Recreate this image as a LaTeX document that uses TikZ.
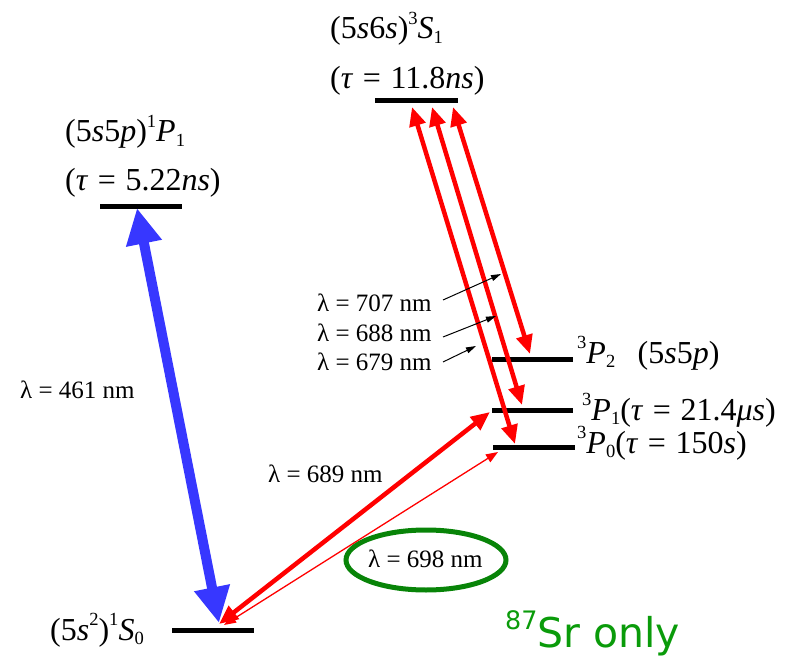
\documentclass[tikz,border=0pt]{standalone}
\usepackage{fontspec}
\usepackage{graphicx}
\setmainfont{Liberation Serif}
\newfontfamily\greensans{DejaVu Sans}
\usetikzlibrary{arrows.meta}
\newcommand\lo[1]{\raisebox{-0.15em}{\scalebox{0.58}{#1}}}
\newcommand\hi[1]{\raisebox{0.46em}{\scalebox{0.58}{#1}}}
\newcommand\eqs{\hspace{0.3em}=\hspace{0.3em}}
\definecolor{arrowblue}{RGB}{55,55,255}
\definecolor{srgreen}{RGB}{10,155,10}
\tikzset{
  level/.style={line width=5pt},
  big/.style={font=\fontsize{32}{34}\selectfont, inner sep=0pt, anchor=base west},
  small/.style={font=\fontsize{25}{28}\selectfont, inner sep=0pt, anchor=base west},
  bluearrow/.style={arrowblue, line width=10pt, {Triangle[length=36pt,width=34pt]}-{Triangle[length=36pt,width=34pt]}},
  redarrow/.style={red, line width=4.5pt, {Triangle[length=19pt,width=16pt]}-{Triangle[length=19pt,width=16pt]}},
  thinred/.style={red, line width=1.3pt, {Triangle[length=12pt,width=9pt]}-{Triangle[length=12pt,width=9pt]}},
  pointer/.style={black, line width=1pt, -{Triangle[length=10pt,width=6pt]}}
}
\begin{document}
\begin{tikzpicture}[x=1pt,y=-1pt]
\useasboundingbox (0,0) rectangle (793,658);
% levels
\coordinate (s1l) at (375,101); \coordinate (s1r) at (458,101);
\coordinate (p1sl) at (100,207); \coordinate (p1sr) at (182,207);
\coordinate (p2l) at (492,359); \coordinate (p2r) at (573,359);
\coordinate (p1l) at (492,410); \coordinate (p1r) at (573,410);
\coordinate (p0l) at (493,447); \coordinate (p0r) at (575,447);
\coordinate (s0l) at (172,630); \coordinate (s0r) at (254,630);
\draw[level] (s1l) -- (s1r);
\draw[level] (p1sl) -- (p1sr);
\draw[level] (p2l) -- (p2r);
\draw[level] (p1l) -- (p1r);
\draw[level] (p0l) -- (p0r);
\draw[level] (s0l) -- (s0r);
% labels
\node[big] (l1) at (330,39) {(5\textit{s}6\textit{s})\hi{3}\textit{S}\lo{1}};
\node[big] (l2) at (330,89) {(\textit{τ}\eqs 11.8\textit{ns})};
\node[big] (l3) at (65,142) {(5\textit{s}5\textit{p})\hi{1}\textit{P}\lo{1}};
\node[big] (l4) at (65,191) {(\textit{τ}\eqs 5.22\textit{ns})};
\node[big] (l5) at (577,363) {\hi{3}\textit{P}\lo{2}\hspace{0.7em}(5\textit{s}5\textit{p})};
\node[big] (l6) at (582,420) {\hi{3}\textit{P}\lo{1}(\textit{τ}\eqs 21.4\textit{μs})};
\node[big] (l7) at (577,453) {\hi{3}\textit{P}\lo{0}(\textit{τ}\eqs 150\textit{s})};
\node[big] (l8) at (50,640) {(5\textit{s}\hi{2})\hi{1}\textit{S}\lo{0}};
\node[small] (w707) at (317,311) {λ = 707 nm};
\node[small] (w688) at (317,341) {λ = 688 nm};
\node[small] (w679) at (317,370) {λ = 679 nm};
\node[small] (w461) at (20,398) {λ = 461 nm};
\node[small] (w689) at (268,482) {λ = 689 nm};
\node[small] (w698) at (368,567) {λ = 698 nm};
\draw[srgreen!85!black, line width=5pt] (426,560) ellipse (80pt and 30pt);
\node[font=\greensans\fontsize{41}{44}\selectfont, text=srgreen, inner sep=0pt, anchor=base west] (sr) at (505,647) {\raisebox{0.42em}{\scalebox{0.62}{87}}Sr only};
% arrow end points
\coordinate (bt) at (137,208); \coordinate (bb) at (219,623);
\coordinate (rt1) at (412,107); \coordinate (rb1) at (515,444);
\coordinate (rt2) at (432,107); \coordinate (rb2) at (522,405);
\coordinate (rt3) at (453,107); \coordinate (rb3) at (530,354);
\coordinate (gt) at (490,412); \coordinate (gb) at (219,624);
\coordinate (tt) at (498,452); \coordinate (tb) at (224,625);
\coordinate (pa) at (443,300); \coordinate (pb) at (501,274);
\coordinate (pc) at (443,337); \coordinate (pd) at (496,316);
\coordinate (pe) at (443,362); \coordinate (pf) at (476,346);
\draw[bluearrow] (bb) -- (bt);
\draw[redarrow] (rb1) -- (rt1);
\draw[redarrow] (rb2) -- (rt2);
\draw[redarrow] (rb3) -- (rt3);
\draw[thinred] (tb) -- (tt);
\draw[redarrow] (gb) -- (gt);
\draw[pointer] (pa) -- (pb);
\draw[pointer] (pc) -- (pd);
\draw[pointer] (pe) -- (pf);
\end{tikzpicture}
\end{document}
